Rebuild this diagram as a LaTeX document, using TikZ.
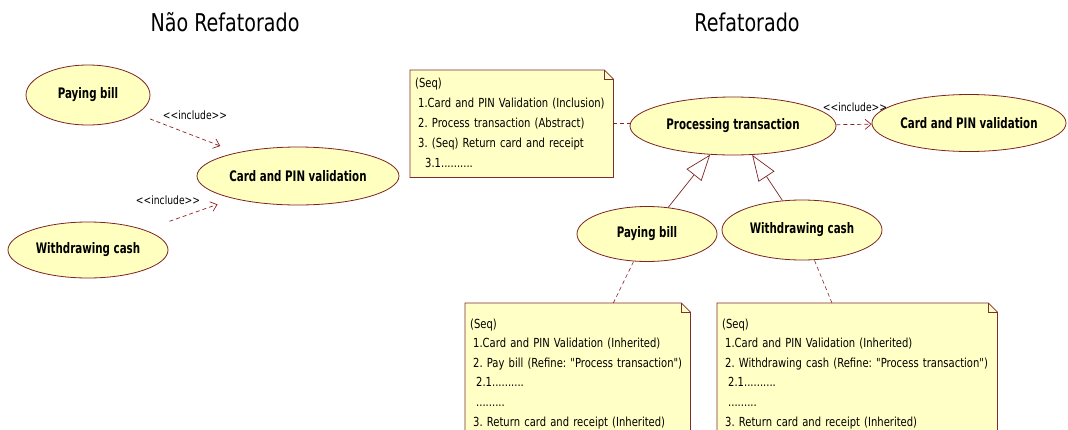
\documentclass[tikz,border=0pt]{standalone}
\usepackage{fontspec}
\setmainfont{DejaVu Sans}
\newfontfamily\titlefont[FakeStretch=0.78]{DejaVu Sans}
\newfontfamily\bodyfont[FakeStretch=0.8]{DejaVu Sans}
\newfontfamily\ucfont[FakeStretch=0.71]{DejaVu Sans}
\usetikzlibrary{arrows.meta,calc,backgrounds,shapes.geometric}
\frenchspacing

\definecolor{ucfill}{RGB}{255,255,192}
\definecolor{ucline}{RGB}{125,35,35}
\definecolor{notefill}{RGB}{255,255,198}
\definecolor{noteline}{RGB}{125,45,45}
\definecolor{dashcol}{RGB}{140,35,35}

% outline of a UML note with a folded top-right corner
\newcommand\umlnote[1]{%
  \begin{scope}[on background layer]
    \filldraw[fill=notefill, draw=noteline, line width=0.8pt]
      (#1.north west) -- ($(#1.north east)+(-9,0)$) -- ($(#1.north east)+(0,9)$)
      -- (#1.south east) -- (#1.south west) -- cycle;
    \draw[noteline, line width=0.8pt]
      ($(#1.north east)+(-9,0)$) -- ($(#1.north east)+(-9,9)$) -- ($(#1.north east)+(0,9)$);
  \end{scope}}
% left-aligned block of note lines that never wraps
\newcommand\notelines[1]{\begin{tabular}{@{}l@{}}#1\end{tabular}\hfill}

\begin{document}
\begin{tikzpicture}[x=1pt,y=-1pt,
  usecase/.style={ellipse, draw=ucline, fill=ucfill, line width=0.8pt, inner sep=0pt,
    font=\ucfont\bfseries\fontsize{14.5}{16}\selectfont},
  title/.style={font=\titlefont\fontsize{24.5}{28}\selectfont},
  notebox/.style={anchor=north west, align=left, inner xsep=5pt, inner ysep=5pt,
    font=\bodyfont\fontsize{12.5}{19.6}\selectfont},
  include/.style={draw=dashcol, line width=0.7pt, dash pattern=on 4pt off 3pt,
    -{Straight Barb[length=6pt,width=10pt]}},
  inclabel/.style={font=\bodyfont\fontsize{11.5}{14}\selectfont},
  general/.style={draw=ucline, line width=0.7pt,
    -{Triangle[open,length=26pt,width=19pt,fill=white]}},
  notelink/.style={draw=dashcol, line width=0.6pt, dash pattern=on 4pt off 3pt},
]
\useasboundingbox (0,0) rectangle (1068,429);
\clip (0,0) rectangle (1068,429);

% titles
\node[title] (tleft) at (225,22) {Não Refatorado};
\node[title] (tright) at (747,22) {Refatorado};

% ---------- left: without refactoring ----------
\node[usecase, minimum width=124pt, minimum height=60pt] (pbL) at (88,95) {Paying bill};
\node[usecase, minimum width=202pt, minimum height=58pt] (cpL) at (298,176) {Card and PIN validation};
\node[usecase, minimum width=160pt, minimum height=56pt] (wcL) at (88,250) {Withdrawing cash};

\draw[include, shorten <=14pt, shorten >=18pt] (pbL) -- (cpL);
\draw[include, shorten <=26pt, shorten >=17pt] (wcL) -- (cpL);
\node[inclabel] (incA) at (195,115) {<{}<include>{}>};
\node[inclabel] (incB) at (168,200) {<{}<include>{}>};

% ---------- right: refactored ----------
\node[usecase, minimum width=206pt, minimum height=58pt] (pt) at (733,126) {Processing transaction};
\node[usecase, minimum width=194pt, minimum height=57pt] (cpR) at (969,123) {Card and PIN validation};
\node[usecase, minimum width=140pt, minimum height=55pt] (pbR) at (647,234) {Paying bill};
\node[usecase, minimum width=160pt, minimum height=60pt] (wcR) at (802,230) {Withdrawing cash};

\draw[include] (pt) -- (cpR);
\node[inclabel] (incC) at (855,107) {<{}<include>{}>};

\draw[general] (pbR) -- (pt);
\draw[general] (wcR) -- (pt);

% notes
\node[notebox, text width=193pt, minimum height=107pt, inner ysep=3.5pt,
      font=\bodyfont\fontsize{12.5}{20}\selectfont] (note1) at (410,70) {\notelines{%
(Seq)\\
\hspace{3pt}1.Card and PIN Validation (Inclusion)\\
\hspace{3pt}2. Process transaction (Abstract)\\
\hspace{3pt}3. (Seq) Return card and receipt\\
\hspace{10pt}3.1..........}};
\umlnote{note1}

\node[notebox, text width=215pt, minimum height=140pt] (note2) at (465,303) {\notelines{%
(Seq)\\
\hspace{3pt}1.Card and PIN Validation (Inherited)\\
\hspace{3pt}2. Pay bill (Refine: "Process transaction")\\
\hspace{6pt}2.1..........\\
\hspace{6pt}.........\\
\hspace{3pt}3. Return card and receipt (Inherited)}};
\umlnote{note2}

\node[notebox, text width=270pt, minimum height=140pt] (note3) at (717,303) {\notelines{%
(Seq)\\
\hspace{3pt}1.Card and PIN Validation (Inherited)\\
\hspace{3pt}2. Withdrawing cash (Refine: "Process transaction")\\
\hspace{6pt}2.1..........\\
\hspace{6pt}.........\\
\hspace{3pt}3. Return card and receipt (Inherited)}};
\umlnote{note3}

% note attachments
\draw[notelink] (note1.east) -- (note1.east -| pt.west);
\coordinate (n2top) at ($(note2.north west)!0.658!(note2.north east)$);
\coordinate (n3top) at ($(note3.north west)!0.41!(note3.north east)$);
\draw[notelink] (n2top) -- (pbR);
\draw[notelink] (n3top) -- (wcR);
\end{tikzpicture}
\end{document}
